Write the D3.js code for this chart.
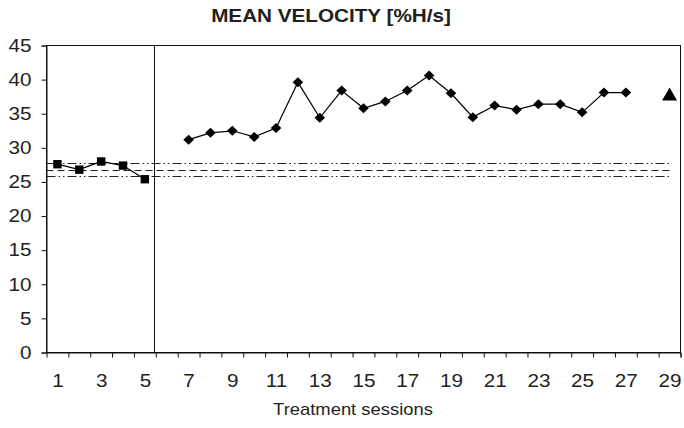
<!DOCTYPE html>
<html>
<head>
<meta charset="utf-8">
<script src="https://cdn.jsdelivr.net/npm/d3@7"></script>
<style>
  html, body { margin: 0; padding: 0; background: #fff; }
  svg { display: block; }
  text { font-family: "Liberation Sans", Arial, sans-serif; fill: #231f20; }
</style>
</head>
<body>
<svg id="chart" width="684" height="428"></svg>
<script>
// Session numbers and mean velocity values per phase
const baselineSessions = [1, 2, 3, 4, 5];
const baselineValues = [27.6, 26.8, 28.0, 27.4, 25.4];
const treatmentSessions = [7, 8, 9, 10, 11, 12, 13, 14, 15, 16, 17, 18, 19, 20, 21, 22, 23, 24, 25, 26, 27];
const treatmentValues = [31.2, 32.2, 32.5, 31.6, 32.9, 39.6, 34.4, 38.4, 35.8, 36.8, 38.4, 40.6, 38.0, 34.5, 36.2, 35.6, 36.4, 36.4, 35.2, 38.1, 38.1];
const followUpSessions = [29];
const followUpValues = [37.9];

// Baseline mean and band limits
const baselineMean = 26.8;
const bandUpper = 27.8;
const bandLower = 25.8;

// Axis ticks
const xTickLabels = [1, 3, 5, 7, 9, 11, 13, 15, 17, 19, 21, 23, 25, 27, 29];
const yTicks = [0, 5, 10, 15, 20, 25, 30, 35, 40, 45];
const sessionCount = 29;
const phaseBreak = 5.4;

const svg = d3.select("#chart");
const plotLeft = 46.5, plotRight = 680.5, plotTop = 45.5, plotBottom = 352.5;
const stretch = "scale(1.15,1)";

const x = d3.scaleLinear().domain([0.5, sessionCount + 0.5]).range([plotLeft, plotRight]);
const y = d3.scaleLinear().domain([0, 45]).range([plotBottom, plotTop]);

// Title
svg.append("g").attr("transform", "translate(331,22)")
  .append("text").attr("text-anchor", "middle").attr("transform", stretch)
  .style("font-size", "18px").style("font-weight", "bold")
  .text("MEAN VELOCITY [%H/s]");

// Plot frame
svg.append("rect").attr("x", plotLeft).attr("y", plotTop)
  .attr("width", plotRight - plotLeft).attr("height", plotBottom - plotTop)
  .attr("fill", "none").attr("stroke", "#111").attr("stroke-width", 1);

// Y axis
const yAxis = svg.append("g").attr("transform", `translate(${plotLeft},0)`)
  .call(d3.axisLeft(y).tickValues(yTicks).tickSize(5).tickPadding(8));
yAxis.select(".domain").attr("stroke", "#111");
yAxis.selectAll(".tick line").attr("stroke", "#111");
yAxis.selectAll(".tick text").attr("transform", stretch)
  .style("font-size", "18px").attr("font-family", null).attr("fill", "#231f20");

// X axis: tick marks on category boundaries, labels at odd sessions
const boundaries = d3.range(1, sessionCount + 1).map(d => d + 0.5);
const xAxis = svg.append("g").attr("transform", `translate(0,${plotBottom})`)
  .call(d3.axisBottom(x).tickValues(boundaries).tickSize(5).tickFormat(""));
xAxis.select(".domain").attr("stroke", "#111");
xAxis.selectAll(".tick line").attr("stroke", "#111");

const xLabels = svg.append("g").attr("transform", `translate(0,${plotBottom})`)
  .call(d3.axisBottom(x).tickValues(xTickLabels).tickSize(0).tickPadding(22).tickFormat(d3.format("d")));
xLabels.select(".domain").remove();
xLabels.selectAll(".tick text").attr("transform", stretch)
  .style("font-size", "18px").attr("font-family", null).attr("fill", "#231f20");

// X axis title
svg.append("g").attr("transform", "translate(353,415)")
  .append("text").attr("text-anchor", "middle").attr("transform", stretch)
  .style("font-size", "16px").text("Treatment sessions");

// Phase separator
svg.append("line")
  .attr("x1", Math.round(x(phaseBreak)) + 0.5).attr("x2", Math.round(x(phaseBreak)) + 0.5)
  .attr("y1", plotTop).attr("y2", plotBottom)
  .attr("stroke", "#111").attr("stroke-width", 1);

// Baseline mean and band lines
const refLines = [
  { v: bandUpper, dash: "9,3,1.5,3,1.5,3" },
  { v: baselineMean, dash: "7,4" },
  { v: bandLower, dash: "9,3,1.5,3,1.5,3" }
];
svg.append("g").selectAll("line").data(refLines).join("line")
  .attr("x1", plotLeft).attr("x2", x(sessionCount))
  .attr("y1", d => Math.round(y(d.v)) + 0.5).attr("y2", d => Math.round(y(d.v)) + 0.5)
  .attr("stroke", "#222").attr("stroke-width", 1)
  .attr("stroke-dasharray", d => d.dash);

const line = d3.line().x(d => x(d[0])).y(d => y(d[1]));
const baseline = baselineSessions.map((s, i) => [s, baselineValues[i]]);
const treatment = treatmentSessions.map((s, i) => [s, treatmentValues[i]]);
const followUp = followUpSessions.map((s, i) => [s, followUpValues[i]]);

svg.append("path").datum(baseline).attr("d", line)
  .attr("fill", "none").attr("stroke", "#000").attr("stroke-width", 1.2);
svg.append("path").datum(treatment).attr("d", line)
  .attr("fill", "none").attr("stroke", "#000").attr("stroke-width", 1.2);

// Markers
svg.append("g").selectAll("rect").data(baseline).join("rect")
  .attr("x", d => x(d[0]) - 4.2).attr("y", d => y(d[1]) - 4.2)
  .attr("width", 8.4).attr("height", 8.4).attr("fill", "#000");

svg.append("g").selectAll("path").data(treatment).join("path")
  .attr("transform", d => `translate(${x(d[0])},${y(d[1])})`)
  .attr("d", "M0,-5 L5.3,0 L0,5 L-5.3,0 Z").attr("fill", "#000");

svg.append("g").selectAll("path").data(followUp).join("path")
  .attr("transform", d => `translate(${x(d[0])},${y(d[1])})`)
  .attr("d", "M0,-6.5 L7.5,6.5 L-7.5,6.5 Z").attr("fill", "#000");
</script>
</body>
</html>
